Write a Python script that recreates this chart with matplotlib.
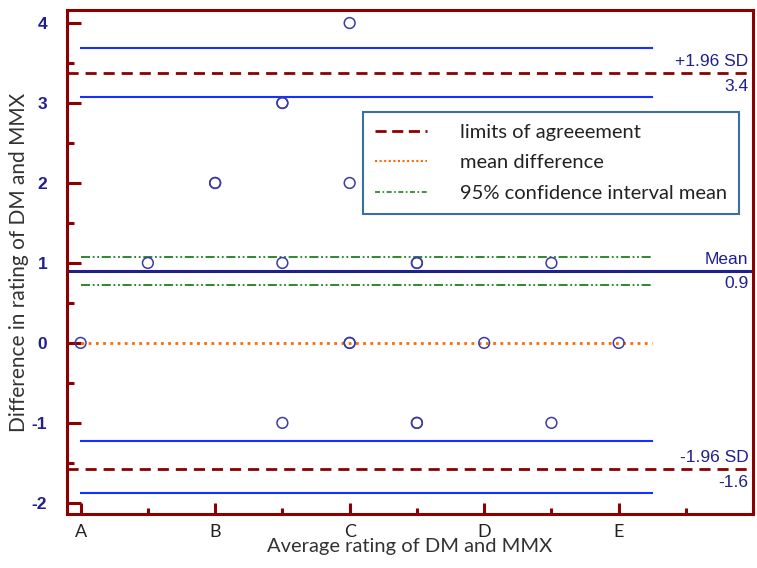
import matplotlib
matplotlib.use("Agg")
from matplotlib import pyplot as plt
from matplotlib.ticker import MultipleLocator

plt.rcParams["axes.unicode_minus"] = False

# data (x: A=0 ... E=4)
pontos_x = [0, 0.5, 1, 1, 1.5, 1.5, 1.5, 1.5, 2, 2, 2, 2, 2.5, 2.5, 2.5, 2.5, 3, 3.5, 3.5, 4]
pontos_y = [0, 1, 2, 2, 3, 3, 1, -1, 4, 2, 0, 0, 1, 1, -1, -1, 0, 1, -1, 0]
categorias = ["A", "B", "C", "D", "E"]

media = 0.9
lim_sup = 3.37
lim_inf = -1.58
ic_lim_sup = [3.08, 3.69]
ic_lim_inf = [-1.88, -1.23]
ic_media = [0.72, 1.07]
fim_ic = 4.25

vermelho = "#8b0000"
azul = "#1530ff"
marinho = "#1f1f8f"
laranja = "#ff6a00"
verde = "#1f7f1f"

fig = plt.figure(figsize=(7.57, 5.68), dpi=100)
ax = fig.add_axes([0.088, 0.095, 0.907, 0.887])

# limits of agreement (full width)
ax.axhline(lim_sup, color=vermelho, ls=(0, (4, 2.5)), lw=2)
ax.axhline(lim_inf, color=vermelho, ls=(0, (4, 2.5)), lw=2)
ax.axhline(media, color=marinho, lw=2.2)

# confidence intervals
for v in ic_lim_sup + ic_lim_inf:
    ax.plot([0, fim_ic], [v, v], color=azul, lw=1.5)
for v in ic_media:
    ax.plot([0, fim_ic], [v, v], color=verde, lw=1.3, ls=(0, (5, 1.5, 1, 1.5, 1, 1.5)))
ax.plot([0, fim_ic], [0, 0], color=laranja, lw=2, ls=(0, (1, 1.6)))

ax.scatter(pontos_x, pontos_y, s=60, facecolors="none", edgecolors="#3a3aaa", lw=1.1, zorder=5)

# right side labels
rotulos = [(lim_sup, "+1.96 SD", "3.4"), (media, "Mean", "0.9"), (lim_inf, "-1.96 SD", "-1.6")]
for y, cima, baixo in rotulos:
    ax.annotate(cima, (0.993, y), xycoords=("axes fraction", "data"), xytext=(0, 3),
                textcoords="offset points", ha="right", va="bottom",
                fontsize=12.5, color=marinho, family="Liberation Sans")
    ax.annotate(baixo, (0.993, y), xycoords=("axes fraction", "data"), xytext=(0, -4),
                textcoords="offset points", ha="right", va="top",
                fontsize=12.5, color=marinho, family="Liberation Sans")

ax.set_xlim(-0.104, 5.0)
ax.set_ylim(-2.14, 4.16)
ax.set_xticks(range(len(categorias)))
ax.set_xticklabels(categorias, fontsize=13, color="#222222", family="Lato")
ax.xaxis.set_minor_locator(MultipleLocator(0.5))
ax.yaxis.set_major_locator(MultipleLocator(1))
ax.yaxis.set_minor_locator(MultipleLocator(0.5))
for t in ax.get_yticklabels():
    t.set_family("Liberation Sans")
    t.set_fontweight("bold")
    t.set_color(marinho)
    t.set_fontsize(12.5)

ax.tick_params(axis="both", which="both", direction="in", color=vermelho, width=2.2)
ax.tick_params(axis="y", which="major", length=10, pad=14)
ax.tick_params(axis="y", which="minor", length=5)
ax.tick_params(axis="x", which="major", length=8, pad=7)
ax.tick_params(axis="x", which="minor", length=4)
ax.tick_params(top=False, right=False, which="both")
for s in ax.spines.values():
    s.set_color(vermelho)
    s.set_linewidth(2.2)

ax.set_xlabel("Average rating of DM and MMX", fontsize=14.5, color="#333333", family="Lato", labelpad=-1)
ax.set_ylabel("Difference in rating of DM and MMX", fontsize=15, color="#333333", family="Lato", labelpad=2)

h1, = ax.plot([], [], color=vermelho, ls=(0, (4, 2)), lw=2)
h2, = ax.plot([], [], color=laranja, ls=(0, (1, 1.2)), lw=1.5)
h3, = ax.plot([], [], color=verde, ls=(0, (3, 1.5, 1, 1.5)), lw=1.2)
leg = ax.legend([h1, h2, h3], ["limits of agreeement", "mean difference", "95% confidence interval mean"],
                loc="upper left", bbox_to_anchor=(363 / 757, 1 - 112 / 568), bbox_transform=fig.transFigure,
                fancybox=False, framealpha=1, edgecolor="#3a6ea5", handlelength=2.6,
                prop={"family": "Lato", "size": 14.5}, borderpad=0.6, labelspacing=0.65, handletextpad=1.6,
                borderaxespad=0)
leg.get_frame().set_linewidth(1.5)
for t in leg.get_texts():
    t.set_color("#222222")

fig.savefig("out.png", dpi=100)
